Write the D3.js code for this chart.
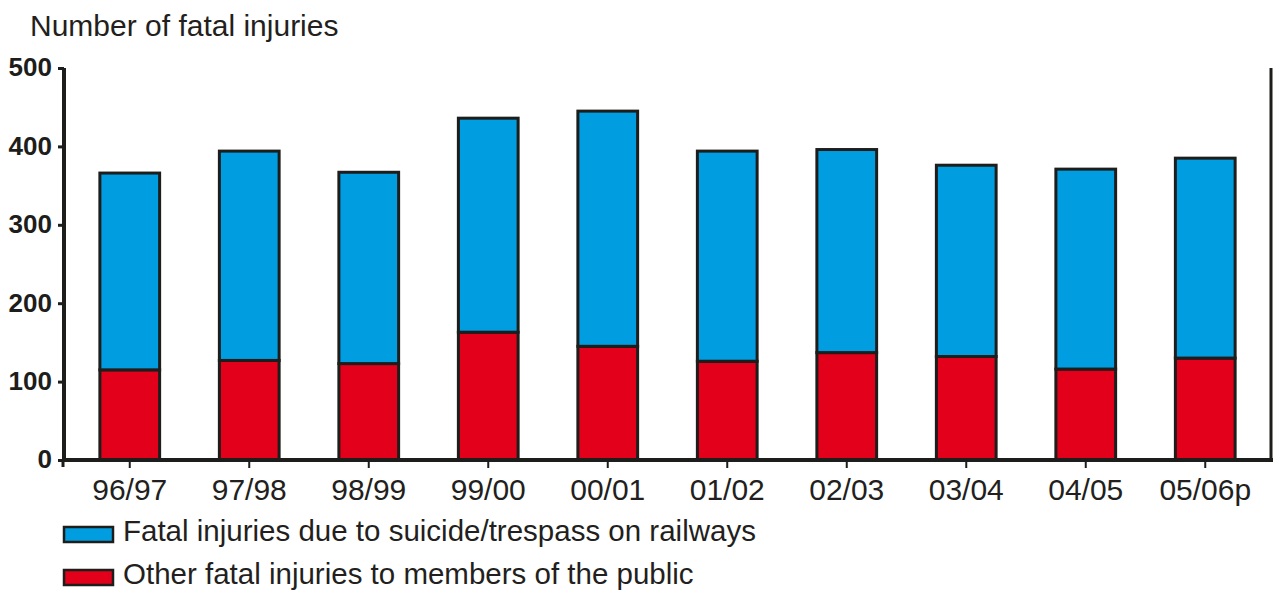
<!DOCTYPE html>
<html>
<head>
<meta charset="utf-8">
<script src="https://cdn.jsdelivr.net/npm/d3@7"></script>
<style>
  body { margin: 0; background: #fff; }
  svg text { font-family: "Liberation Sans", Arial, sans-serif; fill: #231f20; }
</style>
</head>
<body>
<div id="chart"></div>
<script>
const years = ['96/97', '97/98', '98/99', '99/00', '00/01', '01/02', '02/03', '03/04', '04/05', '05/06p'];
const otherPublic = [115, 127, 123, 163, 145, 126, 137, 132, 116, 130];
const suicideTrespass = [251, 267, 244, 273, 300, 268, 259, 244, 255, 255];
const yTicks = [0, 100, 200, 300, 400, 500];

const seriesNames = [
  'Fatal injuries due to suicide/trespass on railways',
  'Other fatal injuries to members of the public',
];
const blue = '#009ee0';
const red = '#e2001a';
const ink = '#1d1d1b';

const width = 1274;
const height = 590;
const margin = { top: 68, right: 2, bottom: 130, left: 64 };

const svg = d3.select('#chart')
  .append('svg')
  .attr('width', width)
  .attr('height', height);

const y = d3.scaleLinear()
  .domain([0, 500])
  .range([height - margin.bottom, margin.top]);

const x = d3.scaleBand()
  .domain(years)
  .range([70, 1265])
  .paddingInner(0.5)
  .paddingOuter(0.25);

// stacked data: red at the bottom, blue on top
const rows = years.map((yr, i) => ({ year: yr, other: otherPublic[i], suicide: suicideTrespass[i] }));
const stacked = d3.stack().keys(['other', 'suicide'])(rows);
const colors = { other: red, suicide: blue };

svg.append('g')
  .selectAll('g')
  .data(stacked)
  .enter()
  .append('g')
  .attr('fill', d => colors[d.key])
  .selectAll('rect')
  .data(d => d)
  .enter()
  .append('rect')
  .attr('x', d => x(d.data.year))
  .attr('y', d => y(d[1]))
  .attr('width', x.bandwidth())
  .attr('height', d => y(d[0]) - y(d[1]))
  .attr('stroke', ink)
  .attr('stroke-width', 3);

// y axis
const yG = svg.append('g')
  .attr('transform', `translate(${margin.left},0)`)
  .call(d3.axisLeft(y).tickValues(yTicks).tickSize(6).tickPadding(6));
yG.select('.domain').attr('stroke', ink).attr('stroke-width', 4)
  .attr('d', `M0,${y(0)}V${y(500)}`);
yG.selectAll('.tick line').attr('stroke', ink).attr('stroke-width', 3);
yG.selectAll('.tick text')
  .attr('font-size', 26)
  .attr('font-weight', 'bold')
  .attr('dy', '0.3em')
  .style('fill', ink);

// right border
svg.append('line')
  .attr('x1', 1271).attr('x2', 1271)
  .attr('y1', y(500)).attr('y2', y(0))
  .attr('stroke', ink)
  .attr('stroke-width', 3);

// x axis
const xG = svg.append('g')
  .attr('transform', `translate(0,${y(0)})`)
  .call(d3.axisBottom(x).tickSize(8).tickPadding(11).tickSizeOuter(0));
xG.select('.domain').attr('stroke', ink).attr('stroke-width', 4)
  .attr('d', `M62,0H1273`);
xG.selectAll('.tick line').attr('stroke', ink).attr('stroke-width', 2);
xG.selectAll('.tick text')
  .attr('font-size', 30)
  .style('fill', '#231f20');
xG.append('line')
  .attr('x1', 63).attr('x2', 63)
  .attr('y1', 0).attr('y2', 7)
  .attr('stroke', ink).attr('stroke-width', 3);

// title
svg.append('text')
  .attr('x', 30)
  .attr('y', 36)
  .attr('font-size', 30)
  .text('Number of fatal injuries');

// legend
const legend = svg.append('g')
  .selectAll('g')
  .data(seriesNames)
  .enter()
  .append('g')
  .attr('transform', (d, i) => `translate(64,${527 + i * 43})`);

legend.append('rect')
  .attr('width', 49)
  .attr('height', 15)
  .attr('fill', (d, i) => (i === 0 ? blue : red))
  .attr('stroke', ink)
  .attr('stroke-width', 2.5);

legend.append('text')
  .attr('x', 59)
  .attr('y', 14)
  .attr('font-size', 29.5)
  .text(d => d);
</script>
</body>
</html>
